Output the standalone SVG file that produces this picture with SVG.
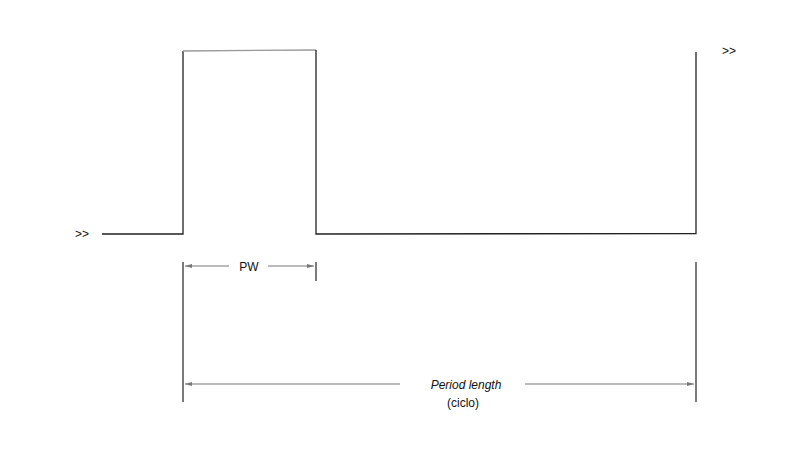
<svg xmlns="http://www.w3.org/2000/svg" width="800" height="450" viewBox="0 0 800 450">
<style>
.wave{fill:none;stroke:#222;stroke-width:1.3}
.ext{fill:none;stroke:#222;stroke-width:1.2}
.dim{fill:none;stroke:#777;stroke-width:1}
.t{font-family:"Liberation Sans",Arial,sans-serif;font-size:12px;fill:#111}
</style>
<defs>
<marker id="ah" markerWidth="8" markerHeight="6" refX="7" refY="3" orient="auto-start-reverse" markerUnits="userSpaceOnUse">
<path d="M0,1 L7,3 L0,5 z" fill="#777"/>
</marker>
</defs>
<rect width="800" height="450" fill="#fff"/>
<g id="waveform">
<path class="wave" d="M102,234 L183,234 L183,51"/>
<path d="M183,51 L316,50" fill="none" stroke="#999" stroke-width="1.3"/>
<path class="wave" d="M316,50 L316,234 L696,233.5 L696,52"/>
</g>
<g id="extensions">
<line class="ext" x1="183" y1="262" x2="183" y2="402"/>
<line class="ext" x1="316" y1="262" x2="316" y2="281"/>
<line class="ext" x1="696" y1="262" x2="696" y2="402"/>
</g>
<g id="connectors">
<line class="dim" x1="185" y1="266" x2="229" y2="266" marker-start="url(#ah)"/>
<line class="dim" x1="268" y1="266" x2="314" y2="266" marker-end="url(#ah)"/>
<line class="dim" x1="185" y1="384" x2="400" y2="384" marker-start="url(#ah)"/>
<line class="dim" x1="525" y1="384" x2="694" y2="384" marker-end="url(#ah)"/>
</g>
<g id="labels">
<text class="t" x="75" y="238">&gt;&gt;</text>
<text class="t" x="722" y="55">&gt;&gt;</text>
<text class="t" x="249" y="271" text-anchor="middle" font-size="12.5">PW</text>
<text class="t" x="466" y="389" text-anchor="middle" font-style="italic" font-size="14">Period length</text>
<text class="t" x="463" y="407" text-anchor="middle" font-size="13">(ciclo)</text>
</g>
</svg>
